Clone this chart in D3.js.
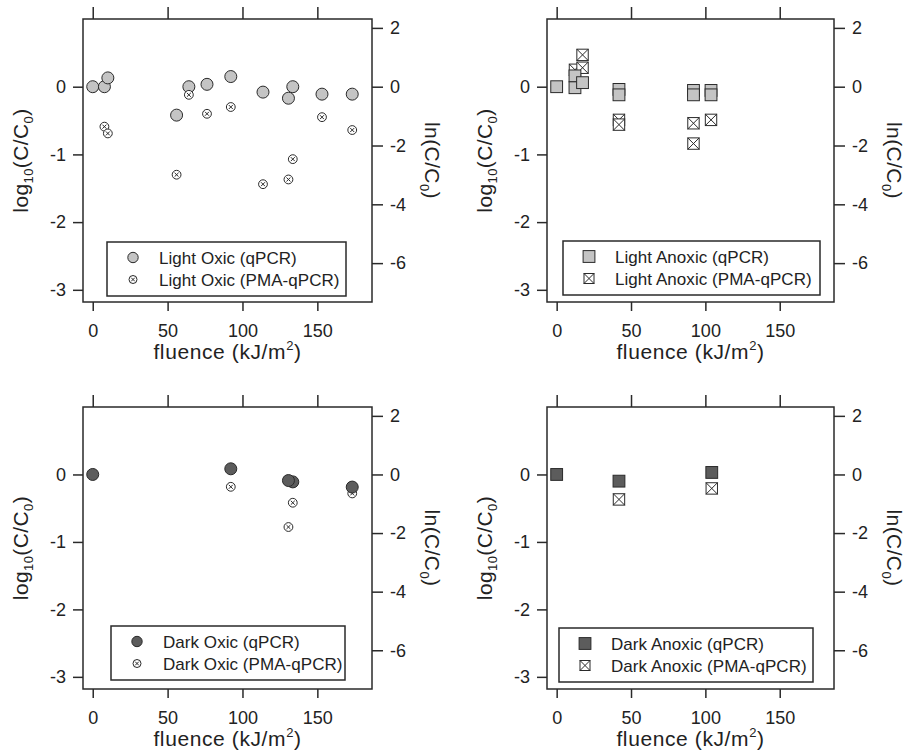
<!DOCTYPE html>
<html>
<head>
<meta charset="utf-8">
<script src="https://cdn.jsdelivr.net/npm/d3@7"></script>
<style>
  body { margin: 0; background: #fff; }
  svg text { font-family: "Liberation Sans", Arial, sans-serif; fill: #222; }
</style>
</head>
<body>
<div id="chart"></div>
<script>
// ---- data ----
// Light Oxic
var loQpcrX = [0, 7.8, 10.1, 56, 64.2, 76.3, 92.2, 113.7, 130.7, 133.6, 153.1, 173.3];
var loQpcrY = [0, 0, 0.13, -0.42, 0, 0.035, 0.15, -0.08, -0.17, 0, -0.11, -0.11];
var loPmaX = [7.8, 10.1, 56, 64.2, 76.3, 92.2, 113.7, 130.7, 133.6, 153.1, 173.3];
var loPmaY = [-0.59, -0.69, -1.30, -0.12, -0.40, -0.30, -1.44, -1.37, -1.07, -0.45, -0.64];

// Light Anoxic
var laQpcrX = [0, 12.3, 12.3, 17.4, 41.9, 41.9, 92, 92, 103.8, 103.8];
var laQpcrY = [0, 0.16, -0.015, 0.06, -0.04, -0.12, -0.055, -0.12, -0.055, -0.12];
var laPmaX = [12.3, 17.4, 17.4, 41.9, 41.9, 92, 92, 103.8];
var laPmaY = [0.25, 0.47, 0.28, -0.49, -0.56, -0.54, -0.84, -0.49];

// Dark Oxic
var doQpcrX = [0, 92.2, 133.6, 130.7, 173.3];
var doQpcrY = [0, 0.084, -0.11, -0.09, -0.187];
var doPmaX = [92.2, 130.7, 133.6, 173.3];
var doPmaY = [-0.183, -0.779, -0.419, -0.281];

// Dark Anoxic
var daQpcrX = [0, 41.9, 104.3];
var daQpcrY = [0, -0.099, 0.03];
var daPmaX = [41.9, 104.3];
var daPmaY = [-0.37, -0.207];

// axis ticks
var xTicks = [0, 50, 100, 150];
var yTicks = [-3, -2, -1, 0];
var lnTicks = [-6, -4, -2, 0, 2];

var zip = (xs, ys) => xs.map((x, i) => ({x: x, y: ys[i]}));

var panels = [
  {frame: [83, 19, 372, 302], shape: "circle", fill: "#c4c4c4", pmaOnTop: true,
   q: zip(loQpcrX, loQpcrY), p: zip(loPmaX, loPmaY),
   names: ["Light Oxic (qPCR)", "Light Oxic (PMA-qPCR)"], legend: [107, 242, 239]},
  {frame: [547, 19, 834, 302], shape: "square", fill: "#c4c4c4", pmaOnTop: false,
   q: zip(laQpcrX, laQpcrY), p: zip(laPmaX, laPmaY),
   names: ["Light Anoxic (qPCR)", "Light Anoxic (PMA-qPCR)"], legend: [563, 241, 257]},
  {frame: [83, 407, 372, 689], shape: "circle", fill: "#5c5c5c", pmaOnTop: false,
   q: zip(doQpcrX, doQpcrY), p: zip(doPmaX, doPmaY),
   names: ["Dark Oxic (qPCR)", "Dark Oxic (PMA-qPCR)"], legend: [111, 626, 234]},
  {frame: [547, 407, 834, 689], shape: "square", fill: "#5c5c5c", pmaOnTop: false,
   q: zip(daQpcrX, daQpcrY), p: zip(daPmaX, daPmaY),
   names: ["Dark Anoxic (qPCR)", "Dark Anoxic (PMA-qPCR)"], legend: [559, 628, 254]}
];

var svg = d3.select("#chart").append("svg")
  .attr("width", 910)
  .attr("height", 755);

var ink = "#2a2a2a";

function drawMarker(g, kind, fill, cx, cy, big) {
  if (kind == "circle") {
    g.append("circle").attr("cx", cx).attr("cy", cy).attr("r", big ? 6 : 5.2)
      .attr("fill", fill).attr("stroke", ink).attr("stroke-width", 1);
  } else if (kind == "ocross") {
    var r = big ? 4.4 : 4;
    g.append("circle").attr("cx", cx).attr("cy", cy).attr("r", r)
      .attr("fill", "#fff").attr("stroke", ink).attr("stroke-width", 1);
    var a = r * 0.45;
    g.append("path")
      .attr("d", "M" + (cx - a) + "," + (cy - a) + "L" + (cx + a) + "," + (cy + a) +
                 "M" + (cx - a) + "," + (cy + a) + "L" + (cx + a) + "," + (cy - a))
      .attr("stroke", ink).attr("stroke-width", 1);
  } else if (kind == "square") {
    var h = 5.9;
    g.append("rect").attr("x", cx - h).attr("y", cy - h).attr("width", 2 * h).attr("height", 2 * h)
      .attr("fill", fill).attr("stroke", ink).attr("stroke-width", 1);
  } else {
    var h = big ? 5.7 : 5;
    g.append("rect").attr("x", cx - h).attr("y", cy - h).attr("width", 2 * h).attr("height", 2 * h)
      .attr("fill", "#fff").attr("stroke", ink).attr("stroke-width", 1);
    g.append("path")
      .attr("d", "M" + (cx - h) + "," + (cy - h) + "L" + (cx + h) + "," + (cy + h) +
                 "M" + (cx - h) + "," + (cy + h) + "L" + (cx + h) + "," + (cy - h))
      .attr("stroke", ink).attr("stroke-width", 1);
  }
}

panels.forEach(function(p) {
  var x0 = p.frame[0], y0 = p.frame[1], x1 = p.frame[2], y1 = p.frame[3];

  var x = d3.scaleLinear().domain([-6.5, 186.5]).range([x0, x1]);
  var y = d3.scaleLinear().domain([-3.18, 1.0]).range([y1, y0]);
  var yLn = d3.scaleLinear().domain([-3.18 * Math.LN10, 1.0 * Math.LN10]).range([y1, y0]);

  // axes
  var gb = svg.append("g").attr("transform", "translate(0," + y1 + ")")
    .call(d3.axisBottom(x).tickValues(xTicks).tickSize(9).tickSizeOuter(0).tickPadding(13));
  var gt = svg.append("g").attr("transform", "translate(0," + y0 + ")")
    .call(d3.axisTop(x).tickValues(xTicks).tickSize(12).tickSizeOuter(0).tickFormat(""));
  var gl = svg.append("g").attr("transform", "translate(" + x0 + ",0)")
    .call(d3.axisLeft(y).tickValues(yTicks).tickSize(10).tickSizeOuter(0).tickPadding(7)
      .tickFormat(d3.format("d")));
  var gr = svg.append("g").attr("transform", "translate(" + x1 + ",0)")
    .call(d3.axisRight(yLn).tickValues(lnTicks).tickSize(11).tickSizeOuter(0).tickPadding(7)
      .tickFormat(d3.format("d")));
  [gb, gt, gl, gr].forEach(function(g) {
    g.select(".domain").remove();
    g.selectAll(".tick line").attr("stroke", ink).attr("stroke-width", 1.5);
    g.selectAll(".tick text").attr("font-size", 18).attr("fill", "#222")
      .style("font-family", "'Liberation Sans', Arial, sans-serif");
  });
  // use hyphen-minus like the original
  svg.selectAll(".tick text").text(function() { return this.textContent.replace("\u2212", "-"); });

  // frame
  svg.append("rect").attr("x", x0).attr("y", y0).attr("width", x1 - x0).attr("height", y1 - y0)
    .attr("fill", "none").attr("stroke", ink).attr("stroke-width", 1.5);

  // axis titles
  var xt = svg.append("text").attr("x", (x0 + x1) / 2).attr("y", y1 + 57)
    .attr("text-anchor", "middle").attr("font-size", 21).attr("letter-spacing", 0.6);
  xt.append("tspan").text("fluence (kJ/m");
  xt.append("tspan").attr("dy", -9).attr("font-size", 13).text("2");
  xt.append("tspan").attr("dy", 9).text(")");

  var lt = svg.append("text")
    .attr("transform", "translate(" + (x0 - 55) + "," + ((y0 + y1) / 2) + ") rotate(-90)")
    .attr("text-anchor", "middle").attr("font-size", 21).attr("letter-spacing", 0.4);
  lt.append("tspan").text("log");
  lt.append("tspan").attr("dy", 5).attr("font-size", 13).text("10");
  lt.append("tspan").attr("dy", -5).text("(C/C");
  lt.append("tspan").attr("dy", 5).attr("font-size", 13).text("0");
  lt.append("tspan").attr("dy", -5).text(")");

  var rt = svg.append("text")
    .attr("transform", "translate(" + (x1 + 53) + "," + ((y0 + y1) / 2) + ") rotate(90)")
    .attr("text-anchor", "middle").attr("font-size", 21).attr("letter-spacing", 0.4);
  rt.append("tspan").text("ln(C/C");
  rt.append("tspan").attr("dy", 5).attr("font-size", 13).text("0");
  rt.append("tspan").attr("dy", -5).text(")");

  // points
  var qKind = p.shape, pKind = p.shape == "circle" ? "ocross" : "scross";
  var gq = svg.append("g"), gp = svg.append("g");
  if (!p.pmaOnTop) gq.raise();
  p.q.forEach(function(d) { drawMarker(gq, qKind, p.fill, x(d.x), y(d.y), true); });
  p.p.forEach(function(d) { drawMarker(gp, pKind, p.fill, x(d.x), y(d.y), true); });

  // legend
  var lx = p.legend[0], ly = p.legend[1], lw = p.legend[2];
  var lg = svg.append("g");
  lg.append("rect").attr("x", lx).attr("y", ly).attr("width", lw).attr("height", 54)
    .attr("fill", "#fff").attr("stroke", ink).attr("stroke-width", 1.5);
  [[qKind, p.names[0], 15.5], [pKind, p.names[1], 37.5]].forEach(function(r) {
    drawMarker(lg, r[0], p.fill, lx + 26, ly + r[2], false);
    lg.append("text").attr("x", lx + 52).attr("y", ly + r[2]).attr("dy", "0.36em")
      .attr("font-size", 17).attr("letter-spacing", 0.05).text(r[1]);
  });
});
</script>
</body>
</html>
